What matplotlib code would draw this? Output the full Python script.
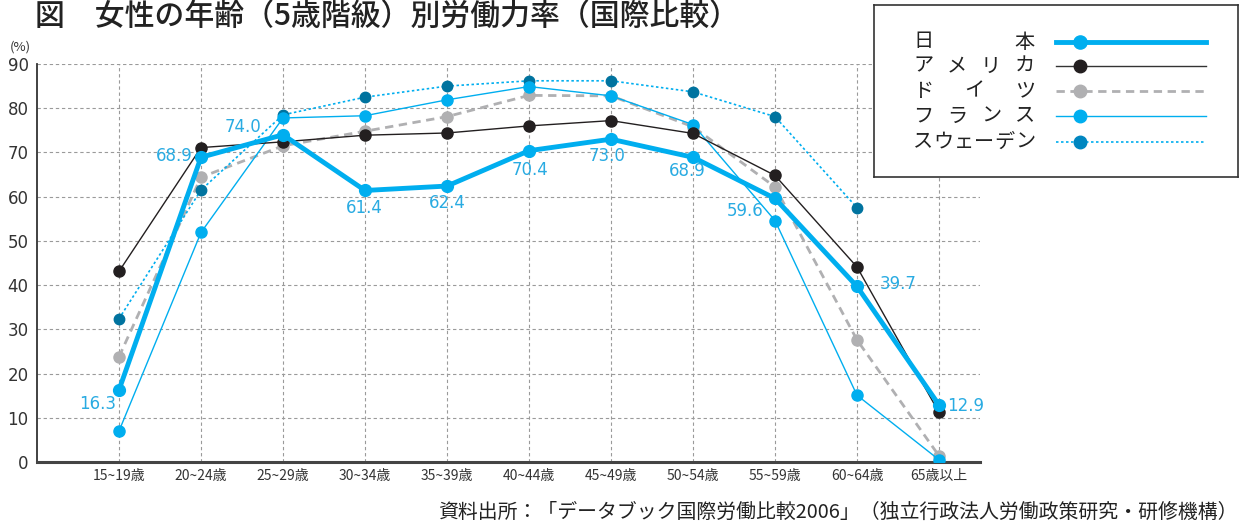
import matplotlib
matplotlib.use("Agg")
import matplotlib.pyplot as plt

plt.rcParams['font.family'] = ['Noto Sans CJK JP', 'DejaVu Sans']

categories = ["15~19歳", "20~24歳", "25~29歳", "30~34歳", "35~39歳", "40~44歳",
              "45~49歳", "50~54歳", "55~59歳", "60~64歳", "65歳以上"]
japan   = [16.3, 68.9, 74.0, 61.4, 62.4, 70.4, 73.0, 68.9, 59.6, 39.7, 12.9]
america = [43.1, 71.1, 72.4, 73.9, 74.4, 76.0, 77.2, 74.3, 64.8, 44.1, 11.2]
germany = [23.8, 64.4, 71.5, 74.8, 78.1, 82.9, 82.8, 75.8, 62.2, 27.6, 1.4]
france  = [7.0, 51.9, 77.8, 78.3, 81.9, 84.9, 82.8, 76.3, 54.6, 15.1, 0.5]
sweden  = [32.4, 61.5, 78.5, 82.5, 85.0, 86.2, 86.2, 83.7, 78.1, 57.5]
yticks = [0, 10, 20, 30, 40, 50, 60, 70, 80, 90]
legend_labels = ["日本", "アメリカ", "ドイツ", "フランス", "スウェーデン"]

CYAN = "#00AEEF"
BLACK = "#231F20"
GRAY = "#B0B0B2"
TEAL = "#00739F"
LABEL = "#29ABE2"

fig = plt.figure(figsize=(12.44, 5.24), dpi=100)
ax = fig.add_axes([37/1244, 1-462/524, (980-37)/1244, (462-64)/524])

x = list(range(len(categories)))
xs = list(range(len(sweden)))

ax.plot(x, france, color=CYAN, lw=1.0, marker='o', ms=8, mec=CYAN, mfc=CYAN, zorder=4)
ax.plot(x, germany, color=GRAY, lw=2.0, ls=(0, (3, 2)), marker='o', ms=8, mec=GRAY, mfc=GRAY, zorder=3)
ax.plot(xs, sweden, color=CYAN, lw=1.2, ls=(0, (1.5, 1.5)), marker='o', ms=7.5, mec=TEAL, mfc=TEAL, zorder=3)
ax.plot(x, america, color=BLACK, lw=1.0, marker='o', ms=8, mec=BLACK, mfc=BLACK, zorder=5)
ax.plot(x, japan, color=CYAN, lw=3.5, marker='o', ms=8.5, mec=CYAN, mfc=CYAN, zorder=6)

offsets = [(-21, -14), (-27, 1), (-40, 8), (-1, -18), (0, -17), (1, -19), (-4, -17),
           (-6, -14), (-30, -13), (41, 2), (27, -1)]
for xi, v, off in zip(x, japan, offsets):
    ax.annotate(f"{v:.1f}", (xi, v), xytext=off, textcoords='offset pixels',
                ha='center', va='center', color=LABEL, fontsize=12, family='DejaVu Sans', zorder=7)

ax.set_xlim(-1, 10.5)
ax.set_ylim(0, 90)
ax.set_yticks(yticks)
ax.set_yticklabels([str(t) for t in yticks], fontsize=12, color='#333333', family='DejaVu Sans')
ax.set_xticks(x)
ax.set_xticklabels(categories, fontsize=10, color='#333333')
ax.tick_params(axis='both', length=0, pad=6)
ax.tick_params(axis='x', pad=5)
ax.grid(True, color='#9a9a9a', ls=(0, (3, 2.5)), lw=0.8)
ax.set_axisbelow(True)
for s in ['top', 'right']:
    ax.spines[s].set_visible(False)
ax.spines['left'].set_color('#333333')
ax.spines['left'].set_linewidth(1.3)
ax.spines['bottom'].set_color('#444444')
ax.spines['bottom'].set_linewidth(2.2)

fig.text(10/1244, 1-47/524, "(%)", fontsize=9.5, color='#333333', va='center', ha='left')
fig.text(35/1244, 1-16/524, "図　女性の年齢（5歳階級）別労働力率（国際比較）",
         fontsize=21.5, color='#222222', va='center', ha='left', fontweight='medium')
fig.text(1238/1244, 1-512/524,
         "資料出所：「データブック国際労働比較2006」（独立行政法人労働政策研究・研修機構）",
         fontsize=14.3, color='#222222', va='center', ha='right')

# legend box
lax = fig.add_axes([874/1244, 1-177/524, (1238-874)/1244, (177-5)/524])
lax.set_xlim(874, 1238)
lax.set_ylim(177, 5)
lax.set_xticks([]); lax.set_yticks([])
for s in lax.spines.values():
    s.set_color('#333333'); s.set_linewidth(1.2)
lax.set_facecolor('white')
styles = [
    dict(color=CYAN, lw=3.5, ls='-', mfc=CYAN, mec=CYAN, ms=9.5),
    dict(color='#333333', lw=1.0, ls='-', mfc=BLACK, mec=BLACK, ms=9),
    dict(color=GRAY, lw=2.0, ls=(0, (3, 2)), mfc=GRAY, mec=GRAY, ms=9),
    dict(color=CYAN, lw=1.0, ls='-', mfc=CYAN, mec=CYAN, ms=9),
    dict(color=CYAN, lw=1.2, ls=(0, (1.5, 1.5)), mfc='#0086C0', mec='#0086C0', ms=9),
]
ys = [42, 66, 91, 116, 142]
x0, x1, cw = 913, 1035, 20.5
for lab, yy, st in zip(legend_labels, ys, styles):
    lax.plot([1056, 1206], [yy, yy], color=st['color'], lw=st['lw'], ls=st['ls'])
    lax.plot([1080], [yy], marker='o', ms=st['ms'], mfc=st['mfc'], mec=st['mec'], ls='none')
    n = len(lab)
    step = (x1 - x0 - cw) / (n - 1)
    for i, ch in enumerate(lab):
        lax.text(x0 + cw / 2 + i * step, yy, ch, fontsize=14.5, color='#222222',
                 va='center', ha='center')

fig.savefig("out.png", dpi=100)
